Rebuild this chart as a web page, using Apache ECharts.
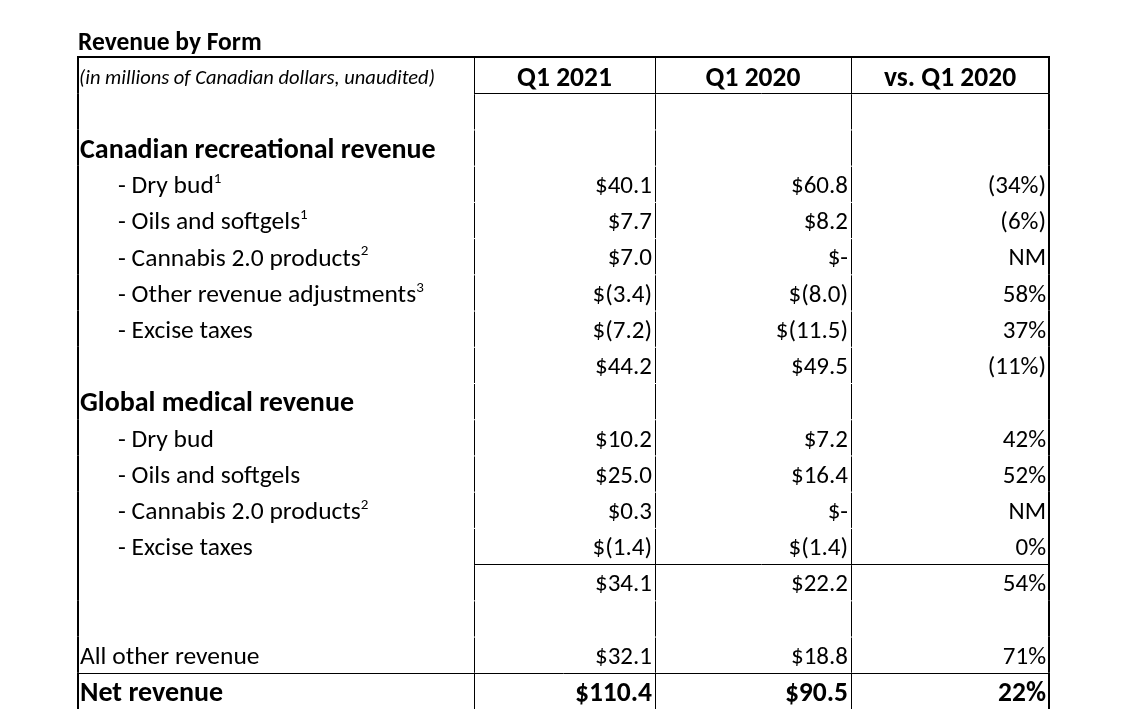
<!DOCTYPE html>
<html><head><meta charset="utf-8">
<script src="https://cdn.jsdelivr.net/npm/echarts@6/dist/echarts.min.js"></script>
<style>html,body{margin:0;padding:0;background:#fff}#c{width:1128px;height:718px}</style>
</head><body><div id="c"></div>
<script>
// ---- data ----
const titleText = 'Revenue by Form';
const unitNote = '(in millions of Canadian dollars, unaudited)';
const columnHeaders = ['Q1 2021', 'Q1 2020', 'vs. Q1 2020'];
const rowLabels = ['', '', 'Canadian recreational revenue', '- Dry bud', '- Oils and softgels', '- Cannabis 2.0 products', '- Other revenue adjustments', '- Excise taxes', '', 'Global medical revenue', '- Dry bud', '- Oils and softgels', '- Cannabis 2.0 products', '- Excise taxes', '', '', 'All other revenue', 'Net revenue'];
const rowNotes = ['', '', '', '1', '1', '2', '3', '', '', '', '', '', '2', '', '', '', '', ''];
const rowKinds = ['header', 'blank', 'section', 'item', 'item', 'item', 'item', 'item', 'subtotal', 'section', 'item', 'item', 'item', 'item', 'subtotal', 'blank', 'plain', 'total'];
const q1_2021 = [null, null, null, 40.1, 7.7, 7.0, -3.4, -7.2, 44.2, null, 10.2, 25.0, 0.3, -1.4, 34.1, null, 32.1, 110.4];
const q1_2020 = [null, null, null, 60.8, 8.2, 0, -8.0, -11.5, 49.5, null, 7.2, 16.4, 0, -1.4, 22.2, null, 18.8, 90.5];
const changePct = [null, null, null, -34, -6, 'NM', 58, 37, -11, null, 42, 52, 'NM', 0, 54, null, 71, 22];

// ---- layout ----
const colWidths = [396, 181, 196, 198];
const colEdges = colWidths.reduce((a, w) => { a.push(a[a.length - 1] + w); return a; }, [0]);
const FONT = 'Carlito, Lato, sans-serif';

function fmtMoney(v) {
  if (v === null || v === undefined) return '';
  if (v === 0) return '$-';
  if (v < 0) return '$(' + (-v).toFixed(1) + ')';
  return '$' + v.toFixed(1);
}
function fmtPct(v) {
  if (v === null || v === undefined) return '';
  if (typeof v === 'string') return v;
  if (v < 0) return '(' + (-v) + '%)';
  return v + '%';
}

function txt(x, y, text, align, size, weight, style, rich) {
  const s = {
    x: x, y: y, text: text, fill: '#000',
    align: align, verticalAlign: 'middle',
    fontFamily: FONT, fontSize: size, fontWeight: weight || 'normal', fontStyle: style || 'normal'
  };
  if (rich) s.rich = rich;
  return { type: 'text', style: s };
}
function ln(x1, y1, x2, y2, w) {
  return { type: 'line', shape: { x1: x1, y1: y1, x2: x2, y2: y2 }, style: { stroke: '#000', lineWidth: w } };
}

function renderItem(params, api) {
  const r = api.value(1);
  const center = api.coord([0, r]);
  const h = api.size([0, 1])[1];
  const yTop = center[1] - h / 2, yBot = center[1] + h / 2;
  const xs = colEdges.map(e => api.coord([e, r])[0]);
  const cy = center[1] + 3;
  const kind = rowKinds[r];
  const ch = [];
  // vertical borders
  ch.push(ln(xs[0], yTop, xs[0], yBot, 2));
  for (let k = 1; k < 4; k++) ch.push(ln(Math.round(xs[k]) + 0.5, yTop + (r > 0 ? 1 : 0), Math.round(xs[k]) + 0.5, yBot, 1));
  ch.push(ln(xs[4], yTop, xs[4], yBot, 2));
  if (kind === 'header') {
    ch.push(ln(xs[0] - 1, yTop, xs[4] + 1, yTop, 2));
    ch.push(ln(xs[1], Math.round(yBot) + 0.5, xs[4], Math.round(yBot) + 0.5, 1));
    ch.push(txt(xs[0] + 1, cy + 1, unitNote, 'left', 20.5, 'normal', 'italic'));
    for (let k = 0; k < 3; k++) ch.push(txt((xs[k + 1] + xs[k + 2]) / 2, cy + 1, columnHeaders[k], 'center', 27.5, 'bold'));
    return { type: 'group', children: ch };
  }
  if (r === 13) ch.push(ln(xs[1], Math.round(yBot) + 0.5, xs[4], Math.round(yBot) + 0.5, 1));
  if (r === 16) ch.push(ln(xs[0], Math.round(yBot) + 0.5, xs[4], Math.round(yBot) + 0.5, 1));
  const isBold = (kind === 'section' || kind === 'total');
  if (rowLabels[r]) {
    const indent = kind === 'item' ? 40 : 2;
    const size = isBold ? 28 : 25.5;
    const rich = {
      n: { fontFamily: FONT, fontSize: size, fontWeight: isBold ? 'bold' : 'normal', lineHeight: 30, fill: '#000' },
      s: { fontFamily: FONT, fontSize: 15, lineHeight: 18, verticalAlign: 'top', fill: '#000' }
    };
    const t = '{n|' + rowLabels[r] + '}' + (rowNotes[r] ? '{s|' + rowNotes[r] + '}' : '');
    ch.push(txt(xs[0] + indent, cy, t, 'left', size, isBold ? 'bold' : 'normal', 'normal', rich));
  }
  const vals = [fmtMoney(q1_2021[r]), fmtMoney(q1_2020[r]), fmtPct(changePct[r])];
  for (let k = 0; k < 3; k++) {
    if (vals[k]) ch.push(txt(xs[k + 2] - 3, cy, vals[k], 'right', kind === 'total' ? 27.5 : 25, kind === 'total' ? 'bold' : 'normal'));
  }
  return { type: 'group', children: ch };
}

const chart = echarts.init(document.getElementById('c'));
chart.setOption({
  backgroundColor: '#fff',
  animation: false,
  title: {
    text: titleText, left: 78, top: 31, padding: 0,
    textStyle: { fontFamily: FONT, fontSize: 25.5, fontWeight: 'bold', color: '#000' }
  },
  grid: { left: 78, right: 79, top: 57, bottom: 9 },
  xAxis: { type: 'value', min: 0, max: colEdges[colEdges.length - 1], show: false },
  yAxis: { type: 'category', inverse: true, data: rowLabels.map((l, i) => i), show: false },
  series: [{
    type: 'custom',
    renderItem: renderItem,
    clip: false,
    data: rowLabels.map((l, i) => [0, i])
  }]
});
</script></body></html>
